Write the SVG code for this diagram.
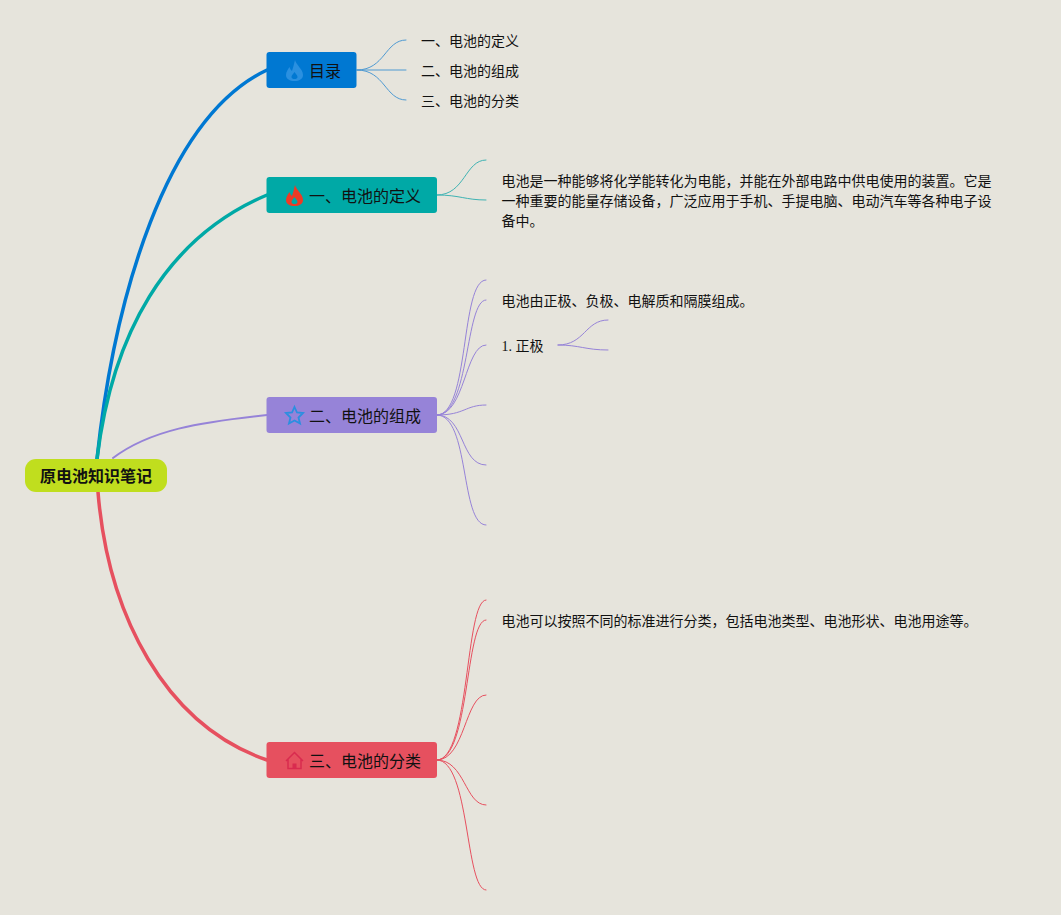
<svg xmlns="http://www.w3.org/2000/svg" width="1061" height="915" viewBox="0 0 1061 915">
<style>
text{font-family:"Liberation Serif","Noto Sans CJK SC",serif;fill:#111}
.t{font-size:16px}
.s{font-size:14px}
.r{font-size:16px;font-weight:bold;font-family:"Liberation Sans","Noto Sans CJK SC",sans-serif}
path{fill:none}
.c path{stroke-linecap:round}
.m{stroke-width:3.5}
.f{stroke-width:1}
.b{stroke:#0078d2}.g{stroke:#00a9a6}.p{stroke:#9683d8}.d{stroke:#e6505f}
</style>
<rect width="1061" height="915" fill="#e6e4dc"/>
<g id="connectors" class="c">
<path class="m b" d="M97 459C114 300 165 118 267 70"/>
<path class="m g" d="M97 459C112 335 165 238 267 195"/>
<path class="p" stroke-width="2" d="M113 458C150 430 200 422 267 415"/>
<path class="m d" d="M98 492C108 615 165 725 267 760"/>
<path class="f" stroke="#4f9ad2" d="M357 70C385 70 385 40 406 40M357 70H406M357 70C385 70 385 100 406 100"/>
<path class="f" stroke="#3fb3b3" d="M437 195C465 195 465 160 486 160M437 195C460 195 465 200 486 200"/>
<path class="f p" d="M437 415C470 415 460 280 486 280M437 415C470 415 465 300 486 300M437 415C465 415 465 345 486 345M437 415C465 415 465 405 486 405M437 415C465 415 460 465 486 465M437 415C470 415 460 525 486 525M558 345C585 345 585 320 608 320M558 345C580 345 585 350 608 350"/>
<path class="f d" d="M437 760C470 760 465 600 486 600M437 760C470 760 465 620 486 620M437 760C465 760 465 695 486 695M437 760C465 760 465 805 486 805M437 760C470 760 465 890 486 890"/>
</g>
<g id="root"><rect x="25" y="459" width="142" height="33" rx="11" fill="#c0de1e"/><text class="r" x="96" y="482" text-anchor="middle">原电池知识笔记</text></g>
<g id="n0"><rect x="266.500" y="52" width="90" height="36" rx="3" fill="#0078d2"/>
<path fill-rule="evenodd" d="M295 60C296 65 303 69 303 75C303 79 299 81 294.500 81C290 81 286 79 286 75C286 72 288 69 289.500 67C290 69 291 70 292 71C293 68 294 64 295 60ZM294.500 72C293 74 291.500 75.500 291.500 77C291.500 78.500 293 79 294.500 79C296 79 297.500 78.500 297.500 77C297.500 75.500 296 74 294.500 72Z" style="fill:#2a90e0"/><text class="t" x="309" y="77">目录</text></g>
<g id="n1"><rect x="266.500" y="177" width="170.500" height="36" rx="3" fill="#00a9a6"/>
<path fill-rule="evenodd" d="M295 185C296 190 303 194 303 200C303 204 299 206 294.500 206C290 206 286 204 286 200C286 197 288 194 289.500 192C290 194 291 195 292 196C293 193 294 189 295 185ZM294.500 197C293 199 291.500 200.500 291.500 202C291.500 203.500 293 204 294.500 204C296 204 297.500 203.500 297.500 202C297.500 200.500 296 199 294.500 197Z" style="fill:#ee3a25"/><text class="t" x="309" y="202">一、电池的定义</text></g>
<g id="n2"><rect x="266.500" y="397" width="170.500" height="36" rx="3" fill="#9683d8"/>
<path d="M294.500 407L297 412.500L303 413L298.500 417.500L300 423.500L294.500 420.500L289 423.500L290.500 417.500L286 413L292 412.500Z" stroke="#2a8fe0" stroke-width="1.800"/><text class="t" x="309" y="422">二、电池的组成</text></g>
<g id="n3"><rect x="266.500" y="742" width="170.500" height="36" rx="3" fill="#e6505f"/>
<path d="M286 761L294.500 752.500L303 761M288 759V768.500H301V759" stroke="#d92b4f" stroke-width="1.500"/><path d="M292.500 768.500V763.500H296.500V768.500Z" style="fill:#d92b4f"/><text class="t" x="309" y="767">三、电池的分类</text></g>
<g id="n4"><text class="s" x="421" y="46">一、电池的定义</text></g>
<g id="n5"><text class="s" x="421" y="76">二、电池的组成</text></g>
<g id="n6"><text class="s" x="421" y="106">三、电池的分类</text></g>
<g id="n7"><text class="s" x="501.500" y="186">电池是一种能够将化学能转化为电能，并能在外部电路中供电使用的装置。它是</text><text class="s" x="501.500" y="206">一种重要的能量存储设备，广泛应用于手机、手提电脑、电动汽车等各种电子设</text><text class="s" x="501.500" y="226">备中。</text></g>
<g id="n8"><text class="s" x="501.500" y="306">电池由正极、负极、电解质和隔膜组成。</text></g>
<g id="n9"><text class="s" x="501.500" y="351">1. 正极</text></g>
<g id="n10"><text class="s" x="501.500" y="626">电池可以按照不同的标准进行分类，包括电池类型、电池形状、电池用途等。</text></g>
</svg>
